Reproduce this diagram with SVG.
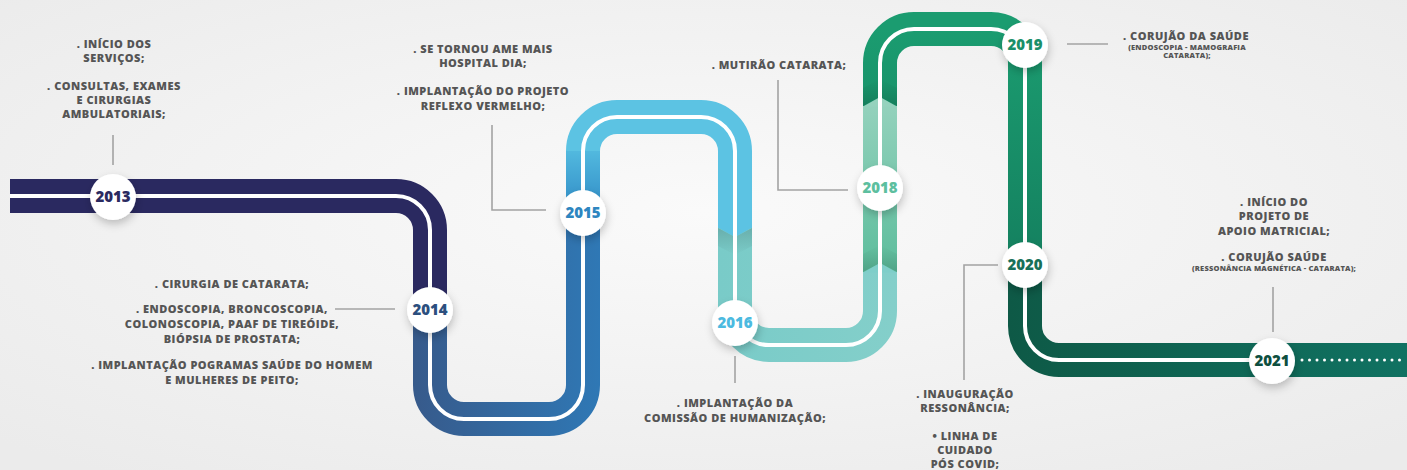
<svg xmlns="http://www.w3.org/2000/svg" width="1407" height="470" viewBox="0 0 1407 470">
<defs>
<style>
.rb{fill:none;stroke-width:34;stroke-linecap:butt;stroke-linejoin:round}
.wl{fill:none;stroke:#ffffff;stroke-width:4}
.cn{fill:none;stroke:#a3a3a3;stroke-width:1.6}
.c{fill:#ffffff;filter:url(#sh)}
.t{font-family:"Open Sans","Liberation Sans",sans-serif;font-weight:800;font-size:11px;fill:#555555;text-anchor:middle;letter-spacing:0.5px}
.s{font-size:7.5px;letter-spacing:0.2px}
.y{font-family:"Open Sans","Liberation Sans",sans-serif;font-weight:800;font-size:15px;text-anchor:middle}
</style>
<radialGradient id="bg" cx="50%" cy="45%" r="70%">
<stop offset="0" stop-color="#fafafa"/><stop offset="1" stop-color="#ebebeb"/>
</radialGradient>
<linearGradient id="gB" gradientUnits="userSpaceOnUse" x1="413" y1="0" x2="600" y2="0">
<stop offset="0" stop-color="#375a8b"/><stop offset="1" stop-color="#2f78b5"/>
</linearGradient>
<linearGradient id="gC" gradientUnits="userSpaceOnUse" x1="0" y1="213" x2="0" y2="140">
<stop offset="0" stop-color="#2f8ac5"/><stop offset="1" stop-color="#58c1e3"/>
</linearGradient>
<linearGradient id="gD" gradientUnits="userSpaceOnUse" x1="718" y1="0" x2="897" y2="0">
<stop offset="0" stop-color="#79cbc8"/><stop offset="1" stop-color="#84cfca"/>
</linearGradient>
<linearGradient id="gE" gradientUnits="userSpaceOnUse" x1="0" y1="272" x2="0" y2="100">
<stop offset="0" stop-color="#5cbd9c"/><stop offset="1" stop-color="#95d2bd"/>
</linearGradient>
<linearGradient id="gF" gradientUnits="userSpaceOnUse" x1="0" y1="29" x2="0" y2="265">
<stop offset="0" stop-color="#1b9c70"/><stop offset="1" stop-color="#14805f"/>
</linearGradient>
<linearGradient id="gG" gradientUnits="userSpaceOnUse" x1="1008" y1="0" x2="1407" y2="0">
<stop offset="0" stop-color="#0e5946"/><stop offset="1" stop-color="#107262"/>
</linearGradient>
<linearGradient id="shD" x1="0" y1="0" x2="0" y2="1">
<stop offset="0" stop-color="#000" stop-opacity="0.14"/><stop offset="1" stop-color="#000" stop-opacity="0"/>
</linearGradient>
<linearGradient id="shU" x1="0" y1="1" x2="0" y2="0">
<stop offset="0" stop-color="#000" stop-opacity="0.14"/><stop offset="1" stop-color="#000" stop-opacity="0"/>
</linearGradient>
<filter id="sh" x="-60%" y="-60%" width="220%" height="220%">
<feDropShadow dx="1" dy="4" stdDeviation="4" flood-color="#000" flood-opacity="0.22"/>
</filter>
</defs>
<rect width="1407" height="470" fill="url(#bg)"/>

<g id="timeline">
<path class="rb" stroke="#2a2960" d="M10 196 H396 A34 34 0 0 1 430 230 V311"/>
<path class="rb" stroke="url(#gB)" d="M430 310 V385 A34 34 0 0 0 464 419 H549 A34 34 0 0 0 583 385 V212"/>
<path class="rb" stroke="url(#gC)" d="M583 213 V150"/>
<path class="rb" stroke="#5cc3e3" d="M583 151 A34 34 0 0 1 617 117 H701 A34 34 0 0 1 735 151 V229"/>
<path class="rb" stroke="url(#gD)" d="M735 228 V311 A34 34 0 0 0 769 345 H846 A34 34 0 0 0 880 311 V271"/>
<path class="rb" stroke="url(#gE)" d="M880 272 V105"/>
<path class="rb" stroke="url(#gF)" d="M880 106 V63 A34 34 0 0 1 914 29 H991 A34 34 0 0 1 1025 63 V266"/>
<path class="rb" stroke="url(#gG)" d="M1025 265 V326 A34 34 0 0 0 1059 360 H1407"/>
<polygon fill="url(#shD)" points="718,228 735,237 752,228 752,246 735,255 718,246"/>
<polygon fill="#5cc3e3" points="718,227.5 752,227.5 735,237"/>
<polygon fill="url(#shU)" points="863,272 880,263 897,272 897,254 880,245 863,254"/>
<polygon fill="#7fcec9" points="863,272.5 897,272.5 880,263"/>
<polygon fill="url(#shU)" points="863,106 880,97 897,106 897,88 880,79 863,88"/>
<polygon fill="#95d2bd" points="863,106.5 897,106.5 880,97"/>
<path class="wl" d="M10 196 H396 A34 34 0 0 1 430 230 V385 A34 34 0 0 0 464 419 H549 A34 34 0 0 0 583 385 V151 A34 34 0 0 1 617 117 H701 A34 34 0 0 1 735 151 V311 A34 34 0 0 0 769 345 H846 A34 34 0 0 0 880 311 V63 A34 34 0 0 1 914 29 H991 A34 34 0 0 1 1025 63 V326 A34 34 0 0 0 1059 360 H1272"/>
<path d="M1302 360 H1407" fill="none" stroke="#ffffff" stroke-width="3" stroke-linecap="round" stroke-dasharray="0 7.5"/>
</g>

<g id="connectors">
<path class="cn" d="M113 135 V165"/>
<path class="cn" d="M335 309 H395"/>
<path class="cn" d="M492 125 V210 H546"/>
<path class="cn" d="M735 356 V383"/>
<path class="cn" d="M778 80 V190 H848"/>
<path class="cn" d="M1067 44 H1108"/>
<path class="cn" d="M998 265 H964 V380"/>
<path class="cn" d="M1273 287 V332"/>
</g>

<g id="node-2013">
<circle class="c" cx="113" cy="197" r="23"/>
<text class="y" x="113" y="202" fill="#2b2a5f">2013</text>
<text class="t" x="114" y="48">. INÍCIO DOS</text>
<text class="t" x="114" y="62">SERVIÇOS;</text>
<text class="t" x="114" y="90">. CONSULTAS, EXAMES</text>
<text class="t" x="114" y="104">E CIRURGIAS</text>
<text class="t" x="114" y="118">AMBULATORIAIS;</text>
</g>

<g id="node-2014">
<circle class="c" cx="430" cy="310" r="23"/>
<text class="y" x="430" y="315" fill="#2c4f7e">2014</text>
<text class="t" x="232" y="288">. CIRURGIA DE CATARATA;</text>
<text class="t" x="232" y="313">. ENDOSCOPIA, BRONCOSCOPIA,</text>
<text class="t" x="232" y="328">COLONOSCOPIA, PAAF DE TIREÓIDE,</text>
<text class="t" x="232" y="343">BIÓPSIA DE PROSTATA;</text>
<text class="t" x="232" y="369">. IMPLANTAÇÃO POGRAMAS SAÚDE DO HOMEM</text>
<text class="t" x="232" y="384">E MULHERES DE PEITO;</text>
</g>

<g id="node-2015">
<circle class="c" cx="583" cy="213" r="23"/>
<text class="y" x="583" y="218" fill="#2e86c0">2015</text>
<text class="t" x="483" y="53">. SE TORNOU AME MAIS</text>
<text class="t" x="483" y="67">HOSPITAL DIA;</text>
<text class="t" x="483" y="95">. IMPLANTAÇÃO DO PROJETO</text>
<text class="t" x="483" y="110">REFLEXO VERMELHO;</text>
</g>

<g id="node-2016">
<circle class="c" cx="735" cy="323" r="23"/>
<text class="y" x="735" y="328" fill="#4cbae0">2016</text>
<text class="t" x="735" y="407">. IMPLANTAÇÃO DA</text>
<text class="t" x="735" y="422">COMISSÃO DE HUMANIZAÇÃO;</text>
</g>

<g id="node-2018">
<circle class="c" cx="880" cy="188" r="23"/>
<text class="y" x="880" y="193" fill="#5dbf9f">2018</text>
<text class="t" x="779" y="69">. MUTIRÃO CATARATA;</text>
</g>

<g id="node-2019">
<circle class="c" cx="1025" cy="45" r="23"/>
<text class="y" x="1025" y="50" fill="#1a8f69">2019</text>
<text class="t" x="1186" y="40">. CORUJÃO DA SAÚDE</text>
<text class="t s" x="1187" y="50">(ENDOSCOPIA - MAMOGRAFIA</text>
<text class="t s" x="1187" y="58">CATARATA);</text>
</g>

<g id="node-2020">
<circle class="c" cx="1025" cy="265" r="23"/>
<text class="y" x="1025" y="270" fill="#177058">2020</text>
<text class="t" x="965" y="398">. INAUGURAÇÃO</text>
<text class="t" x="965" y="412">RESSONÂNCIA;</text>
<text class="t" x="965" y="440">• LINHA DE</text>
<text class="t" x="965" y="454">CUIDADO</text>
<text class="t" x="965" y="468">PÓS COVID;</text>
</g>

<g id="node-2021">
<circle class="c" cx="1272" cy="361" r="23"/>
<text class="y" x="1272" y="366" fill="#0e4f3f">2021</text>
<text class="t" x="1274" y="206">. INÍCIO DO</text>
<text class="t" x="1274" y="220">PROJETO DE</text>
<text class="t" x="1274" y="235">APOIO MATRICIAL;</text>
<text class="t" x="1274" y="261">. CORUJÃO SAÚDE</text>
<text class="t s" x="1274" y="271">(RESSONÂNCIA MAGNÉTICA - CATARATA);</text>
</g>
</svg>
